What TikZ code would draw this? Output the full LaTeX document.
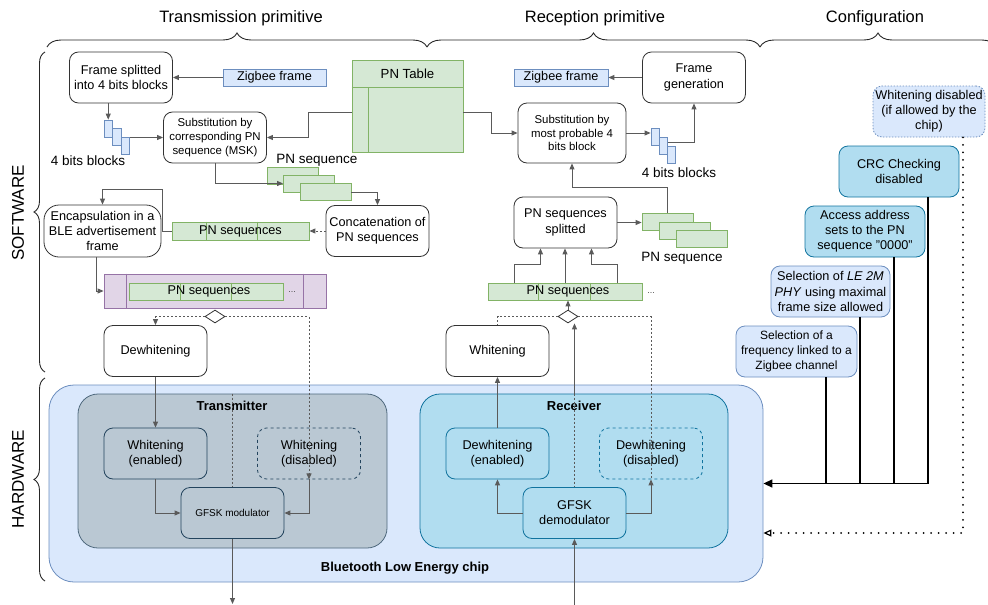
\documentclass[tikz,border=0pt]{standalone}
\usepackage{fontspec}
\setmainfont{Liberation Sans}
\usetikzlibrary{arrows.meta,shapes.geometric,decorations.pathreplacing}

\definecolor{zbfill}{HTML}{DAE8FC}
\definecolor{zbline}{HTML}{6C8EBF}
\definecolor{pnfill}{HTML}{D5E8D4}
\definecolor{pnline}{HTML}{82B366}
\definecolor{advfill}{HTML}{E1D5E7}
\definecolor{advline}{HTML}{9673A6}
\definecolor{txfill}{HTML}{BAC8D3}
\definecolor{txline}{HTML}{23445D}
\definecolor{rxfill}{HTML}{B1DDF0}
\definecolor{rxline}{HTML}{10739E}
\definecolor{wirecol}{HTML}{5A5A5A}

\begin{document}
\begin{tikzpicture}[x=1pt, y=-1pt,
  every node/.style={font=\fontsize{12.7}{15.2}\selectfont, inner sep=0pt},
  swbox/.style={draw=black!80, fill=white, line width=0.8pt, rounded corners=9pt, minimum width=103pt, minimum height=51pt, align=center},
  smalltext/.style={font=\fontsize{11.4}{13.6}\selectfont},
  labeltext/.style={font=\fontsize{13.5}{15}\selectfont},
  headtext/.style={font=\fontsize{16.5}{20}\selectfont},
  boldtext/.style={font=\fontsize{13}{15}\selectfont\bfseries},
  zbframe/.style={draw=zbline, fill=zbfill, line width=0.8pt, minimum height=17pt},
  seqbox/.style={draw=pnline, fill=pnfill, line width=0.8pt, minimum width=51pt, minimum height=17pt},
  bitbox/.style={draw=zbline, fill=zbfill, line width=0.8pt, minimum width=8.5pt, minimum height=17pt},
  txhw/.style={draw=txline, fill=txfill, line width=0.8pt, rounded corners=9pt, minimum width=103pt, minimum height=51pt, align=center},
  rxhw/.style={txhw, draw=rxline, fill=rxfill},
  cfgbox/.style={draw=zbline, fill=zbfill, line width=0.8pt, rounded corners=9pt, minimum width=120pt, minimum height=51pt, align=center},
  cfgdark/.style={cfgbox, draw=rxline, fill=rxfill},
  gate/.style={diamond, draw=black!80, fill=white, line width=0.8pt, minimum width=20pt, minimum height=13pt},
  wire/.style={draw=wirecol, line width=0.9pt},
  arw/.style={wire, -{Triangle[length=6pt,width=5pt]}},
  dashwire/.style={wire, dash pattern=on 2pt off 2pt},
  cfgwire/.style={draw=black, line width=1.4pt},
  hbrace/.style={decorate, decoration={brace, amplitude=14pt}, draw=black!85, line width=0.9pt},
  vbrace/.style={decorate, decoration={brace, amplitude=11pt}, draw=black!85, line width=0.9pt}]

\useasboundingbox (0,0) rectangle (988,605);

\draw (241,18) node (txhead) [headtext] {Transmission primitive};
\draw (595,18) node (rxhead) [headtext] {Reception primitive};
\draw (875,18) node (cfghead) [headtext] {Configuration};

\draw [hbrace] (47,47) -- (427,47);
\draw [hbrace] (427,47) -- (760,47);
\draw [hbrace] (760,47) -- (996,47);
\draw [vbrace] (45,372) -- (45,52);
\draw [vbrace] (45,581) -- (45,378);

\draw (18,213) node (swlabel) [rotate=90, font=\fontsize{17}{20}\selectfont] {SOFTWARE};
\draw (18,479) node (hwlabel) [rotate=90, font=\fontsize{17}{20}\selectfont] {HARDWARE};

\draw (406,483.5) node (chip) [draw=zbline, fill=zbfill, line width=0.8pt, rounded corners=25pt, minimum width=714pt, minimum height=197pt] {};
\draw (232.5,471) node (txbox) [draw=txline!80, fill=txfill, line width=0.8pt, rounded corners=20pt, minimum width=309pt, minimum height=154pt] {};
\draw (574,471) node (rxbox) [draw=rxline, fill=rxfill, line width=0.8pt, rounded corners=20pt, minimum width=308pt, minimum height=154pt] {};
\draw (405,568) node (chiptitle) [boldtext] {Bluetooth Low Energy chip};
\draw (232,406) node (txtitle) [boldtext] {Transmitter};
\draw (574,406) node (rxtitle) [boldtext] {Receiver};

\draw (155.5,453.5) node (txwon) [txhw] {Whitening\\(enabled)};
\draw (309,453.5) node (txwoff) [txhw, dashed] {Whitening\\(disabled)};
\draw (232.5,513) node (gfskmod) [txhw, font=\fontsize{10}{12}\selectfont] {GFSK modulator};
\draw (497.5,453.5) node (rxdwon) [rxhw] {Dewhitening\\(enabled)};
\draw (651,453.5) node (rxdwoff) [rxhw, dashed] {Dewhitening\\(disabled)};
\draw (574.5,513) node (gfskdem) [rxhw] {GFSK\\demodulator};

\draw (121,77.5) node (split) [swbox] {Frame splitted\\into 4 bits blocks};
\draw (274.5,77.5) node (zbtx) [zbframe, minimum width=103pt] {Zigbee frame};
\draw (407.5,106) node (pntab) [draw=pnline, fill=pnfill, line width=0.8pt, minimum width=111pt, minimum height=92pt] {};
\draw (407.5,74) node (pntabtitle) [font=\fontsize{13.2}{15}\selectfont] {PN Table};
\draw [draw=pnline, line width=0.8pt] ([yshift=-28pt]pntab.north west) -- ([yshift=-28pt]pntab.north east);
\draw [draw=pnline, line width=0.8pt] ([xshift=17pt,yshift=-28pt]pntab.north west) -- ([xshift=17pt]pntab.south west);

\draw (108.25,128.5) node (txbit1) [bitbox] {};
\draw (116.75,137) node (txbit2) [bitbox] {};
\draw (125.25,145.5) node (txbit3) [bitbox] {};
\draw (88,161) node (txbitlabel) [labeltext] {4 bits blocks};

\draw (215,137.5) node (subtx) [swbox, smalltext] {Substitution by\\corresponding PN\\sequence (MSK)};

\draw (292.5,175.5) node (txseq1) [seqbox] {};
\draw (309,183.5) node (txseq2) [seqbox] {};
\draw (325.5,192) node (txseq3) [seqbox] {};
\draw (317,160) node (txseqlabel) [labeltext] {PN sequence};

\draw (377.5,231) node (concat) [swbox] {Concatenation of\\PN sequences};
\draw (240.5,231) node (txseqs) [seqbox, minimum width=137pt, minimum height=18pt] {};
\draw [draw=pnline, line width=0.8pt] ([xshift=35pt]txseqs.north west) -- ([xshift=35pt]txseqs.south west);
\draw [draw=pnline, line width=0.8pt] ([xshift=86pt]txseqs.north west) -- ([xshift=86pt]txseqs.south west);
\draw (txseqs) node (txseqstext) {PN sequences};

\draw (102.5,231) node (encap) [swbox, minimum width=117pt, minimum height=52pt, rounded corners=15pt] {Encapsulation in a\\BLE advertisement\\frame};

\draw (215,291) node (adv) [draw=advline, fill=advfill, line width=0.8pt, minimum width=222pt, minimum height=34pt] {};
\draw [draw=advline, line width=0.8pt] ([xshift=23pt]adv.north west) -- ([xshift=23pt]adv.south west);
\draw [draw=advline, line width=0.8pt] ([xshift=200pt]adv.north west) -- ([xshift=200pt]adv.south west);
\draw (206,291.5) node (advseqs) [seqbox, minimum width=154pt] {};
\draw [draw=pnline, line width=0.8pt] ([xshift=52pt]advseqs.north west) -- ([xshift=52pt]advseqs.south west);
\draw [draw=pnline, line width=0.8pt] ([xshift=103pt]advseqs.north west) -- ([xshift=103pt]advseqs.south west);
\draw (209,291.5) node (advseqstext) {PN sequences};
\draw (292,292) node (advdots) [font=\fontsize{9}{10}\selectfont, text=black!70] {...};

\draw (215,316.5) node (txgate) [gate] {};
\draw (155.5,351) node (dewh) [swbox] {Dewhitening};

\draw (561,77.5) node (zbrx) [zbframe, minimum width=94pt] {Zigbee frame};
\draw (694,77.5) node (fgen) [swbox] {Frame\\generation};
\draw (572,133) node (subrx) [swbox, smalltext, minimum width=108pt, minimum height=60pt] {Substitution by\\most probable 4\\bits block};
\draw (655.25,136.5) node (rxbit1) [bitbox] {};
\draw (663.25,145.5) node (rxbit2) [bitbox] {};
\draw (671.25,154.5) node (rxbit3) [bitbox] {};
\draw (679,173) node (rxbitlabel) [labeltext] {4 bits blocks};

\draw (565.5,222.5) node (splt) [swbox] {PN sequences\\splitted};
\draw (667.5,221.5) node (rxseq1) [seqbox] {};
\draw (684.5,230.5) node (rxseq2) [seqbox] {};
\draw (701.5,239) node (rxseq3) [seqbox] {};
\draw (682,258) node (rxseqlabel) [labeltext] {PN sequence};

\draw (565,291.5) node (rxseqs) [seqbox, minimum width=154pt] {};
\draw [draw=pnline, line width=0.8pt] ([xshift=51pt]rxseqs.north west) -- ([xshift=51pt]rxseqs.south west);
\draw [draw=pnline, line width=0.8pt] ([xshift=103pt]rxseqs.north west) -- ([xshift=103pt]rxseqs.south west);
\draw (568,291.5) node (rxseqstext) {PN sequences};
\draw (651,293) node (rxdots) [font=\fontsize{9}{10}\selectfont, text=black!70] {...};

\draw (568,316.5) node (rxgate) [gate] {};
\draw (497.5,351) node (whit) [swbox] {Whitening};

\draw (929,111.5) node (wdisc) [cfgbox, minimum width=112pt, dash pattern=on 1.5pt off 1.5pt] {Whitening disabled\\(if allowed by the\\chip)};
\draw (899,171.5) node (crc) [cfgdark] {CRC Checking\\disabled};
\draw (865,231.5) node (aa) [cfgdark] {Access address\\sets to the PN\\sequence "0000"};
\draw (830.5,291.5) node (phy) [cfgbox, minimum width=119pt] {Selection of \textit{LE 2M}\\\textit{PHY} using maximal\\frame size allowed};
\draw (796.5,351.5) node (freq) [cfgbox, minimum width=121pt, font=\fontsize{12}{15}\selectfont] {Selection of a\\frequency linked to a\\Zigbee channel};

\draw [arw] (zbtx.west) -- (split.east);
\draw [arw] (split.south -| txbit1.north) -- (txbit1.north);
\draw [arw] (txbit3.east |- subtx.west) -- (subtx.west);
\draw [arw] ([yshift=-6pt]pntab.west) -- ++(-43,0) |- (subtx.east);
\draw [arw] (subtx.south) |- (txseq2.west);
\draw [arw] (txseq3.east) -| (concat.north);
\draw [dashwire, -{Triangle[length=6pt,width=5pt]}] (concat.west) -- (txseqs.east);
\draw [arw] (txseqs.west) -- ++(-9,0) -- ++(0,-42) -| (encap.north);
\draw [arw] ([xshift=-6pt]encap.south) |- (adv.west);

\draw [dashwire, -{Triangle[length=6pt,width=5pt]}] (txgate.west) -| (dewh.north);
\draw [dashwire, -{Triangle[length=6pt,width=5pt]}] (txgate.east) -| (txwoff.south);
\draw [arw] (txwoff.south) |- (gfskmod.east);
\draw [dashwire] (txbox.north) -- (gfskmod.north);
\draw [arw] (dewh.south) -- (txwon.north);
\draw [arw] (txwon.south) |- (gfskmod.west);
\coordinate (txout) at (232.5,604);
\draw [arw] (gfskmod.south) -- (txout);

\coordinate (rxin) at (574.5,605);
\draw [arw] (rxin) -- (gfskdem.south);
\draw [dashwire] (rxbox.north -| gfskdem.north) -- (gfskdem.north);
\draw [arw] (rxbox.north -| gfskdem.north) -- (rxgate.south -| gfskdem.north);
\draw [arw] (rxgate.north) -- (rxgate.north |- rxseqs.south);
\draw [dashwire] (rxgate.west) -| (whit.north);
\draw [dashwire] (rxgate.east) -| (rxdwoff.south);
\draw [arw] (gfskdem.east) -| (rxdwoff.south);
\draw [arw] (gfskdem.west) -| (rxdwon.south);
\draw [arw] (rxdwon.north) -- (whit.south);

\draw [arw] ([xshift=-51pt]rxseqs.north) -- ++(0,-18) -| ([xshift=-25pt]splt.south);
\draw [arw] (rxseqs.north) -- (rxseqs.north |- splt.south);
\draw [arw] ([xshift=52pt]rxseqs.north) -- ++(0,-18) -| ([xshift=26pt]splt.south);
\draw [arw] (splt.east) -- (splt.east -| rxseq1.west);
\draw [arw] (rxseq1.north) -- ++(0,-25) -| (subrx.south);
\draw [arw] ([yshift=-6pt]pntab.east) -- ++(28,0) |- (subrx.west);
\draw [arw] (subrx.east) -- (subrx.east -| rxbit1.west);
\draw [arw] ([yshift=3pt]rxbit2.east) -| (fgen.south);
\draw [arw] (fgen.west) -- (zbrx.east);

\draw [cfgwire] ([xshift=29.5pt]freq.south) -- ([xshift=29.5pt]freq.south |- chip.east);
\draw [cfgwire] ([xshift=29.5pt]phy.south) -- ([xshift=29.5pt]phy.south |- chip.east);
\draw [cfgwire] ([xshift=29pt]aa.south) -- ([xshift=29pt]aa.south |- chip.east);
\draw [cfgwire, -{Triangle[length=9pt,width=8pt]}] ([xshift=29pt]crc.south) |- (chip.east);
\draw [draw=black, line width=2pt, line cap=round, dash pattern=on 0pt off 7.5pt, -{Triangle[open,length=8pt,width=7pt,line width=1.2pt]}] ([xshift=34pt]wdisc.south) |- ([yshift=-49.5pt]chip.east);

\end{tikzpicture}
\end{document}
